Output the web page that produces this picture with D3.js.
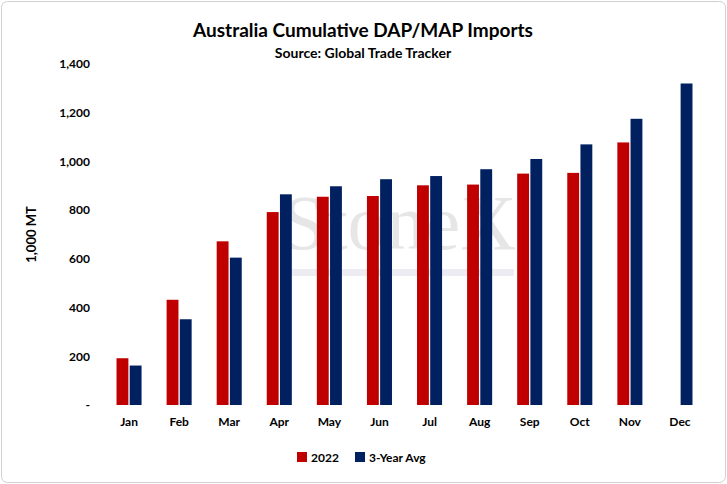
<!DOCTYPE html>
<html><head><meta charset="utf-8">
<script src="https://cdn.jsdelivr.net/npm/d3@7"></script>
<style>body{margin:0;background:#fff;font-family:Lato,"Open Sans",sans-serif;}</style>
</head><body><div id="chart"></div>
<script>
const months = ['Jan','Feb','Mar','Apr','May','Jun','Jul','Aug','Sep','Oct','Nov','Dec'];
const series2022 = [192, 432, 672, 792, 855, 858, 902, 905, 950, 953, 1078, null];
const seriesAvg = [162, 352, 605, 865, 898, 927, 940, 968, 1010, 1070, 1175, 1320];
const yTicks = [0, 200, 400, 600, 800, 1000, 1200, 1400];
const seriesNames = ['2022', '3-Year Avg'];
const colors = ['#C00000', '#002060'];

const W = 727, H = 484;
const margin = { top: 64, right: 22, bottom: 79, left: 104 };
const width = W - margin.left - margin.right;
const height = H - margin.top - margin.bottom;

const svg = d3.select('#chart').append('svg').attr('width', W).attr('height', H);
svg.append('rect').attr('x', 1.5).attr('y', 1.5).attr('width', W - 3).attr('height', H - 3)
  .attr('rx', 6).attr('fill', '#fff').attr('stroke', '#d0d0d0');

svg.append('text').attr('x', 363).attr('y', 37).attr('text-anchor', 'middle')
  .attr('font-size', 19).attr('font-weight', 700).text('Australia Cumulative DAP/MAP Imports');
svg.append('text').attr('x', 363).attr('y', 58).attr('text-anchor', 'middle')
  .attr('font-size', 14).attr('font-weight', 700).text('Source: Global Trade Tracker');

const g = svg.append('g').attr('transform', `translate(${margin.left},${margin.top})`);

// faint watermark
g.append('text').attr('x', width * 0.5 - 5).attr('y', 185).attr('text-anchor', 'middle')
  .attr('font-family', 'Liberation Serif, serif').attr('font-size', 78).attr('fill', '#e6e6e6').text('StoneX');
g.append('rect').attr('x', 185).attr('y', 205).attr('width', 225).attr('height', 7).attr('fill', '#ececf2');

const x0 = d3.scaleBand().domain(months).range([0, width]).paddingInner(0.5).paddingOuter(0.25);
const x1 = d3.scaleBand().domain(seriesNames).range([0, x0.bandwidth()]).paddingInner(0.1);
const y = d3.scaleLinear().domain([0, 1400]).range([height, 0]);

g.append('g').call(d3.axisLeft(y).tickValues(yTicks).tickSize(0).tickPadding(14)
  .tickFormat(d => d === 0 ? '-' : d3.format(',')(d)))
  .call(a => a.select('.domain').remove())
  .selectAll('text').attr('font-size', 12).attr('font-weight', 700).attr('font-family', 'Lato, sans-serif');

g.append('g').attr('transform', `translate(0,${height})`)
  .call(d3.axisBottom(x0).tickSize(0).tickPadding(12))
  .call(a => a.select('.domain').remove())
  .selectAll('text').attr('font-size', 12).attr('font-weight', 700).attr('font-family', 'Lato, sans-serif');

const data = months.map((m, i) => ({ m, vals: [series2022[i], seriesAvg[i]] }));
const grp = g.selectAll('.grp').data(data).join('g').attr('transform', d => `translate(${x0(d.m)},0)`);
grp.selectAll('rect').data(d => d.vals.map((v, i) => ({ v, i })).filter(e => e.v != null)).join('rect')
  .attr('x', e => x1(seriesNames[e.i])).attr('width', x1.bandwidth())
  .attr('y', e => y(e.v)).attr('height', e => height - y(e.v)).attr('fill', e => colors[e.i]);

g.append('text').attr('transform', `translate(-68,${height / 2}) rotate(-90)`).attr('text-anchor', 'middle')
  .attr('font-size', 13).attr('font-weight', 700).text('1,000 MT');

const leg = svg.append('g').attr('transform', 'translate(297,452)');
const items = [{ n: seriesNames[0], x: 0 }, { n: seriesNames[1], x: 58 }];
items.forEach((it, i) => {
  leg.append('rect').attr('x', it.x).attr('y', 0).attr('width', 10).attr('height', 10).attr('fill', colors[i]);
  leg.append('text').attr('x', it.x + 14).attr('y', 10).attr('font-size', 12).attr('font-weight', 700).text(it.n);
});
</script></body></html>
